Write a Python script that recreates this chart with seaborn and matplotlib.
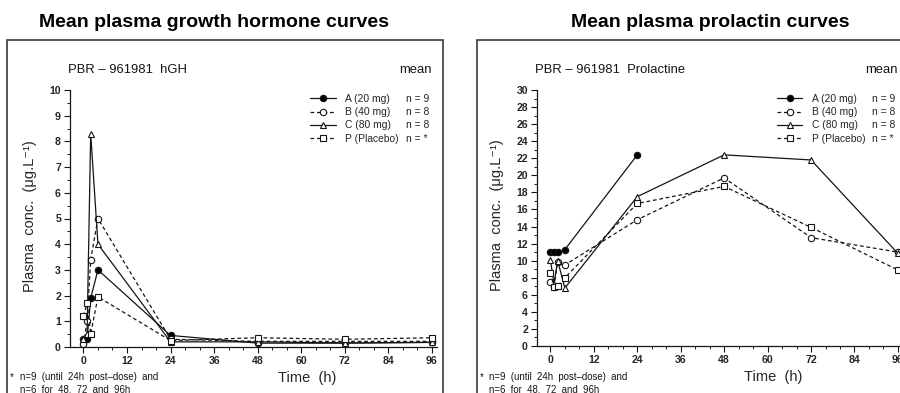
import numpy as np
import pandas as pd
import matplotlib
matplotlib.use("Agg")
import matplotlib.pyplot as plt
import seaborn as sns
from matplotlib.patches import Rectangle
from matplotlib.lines import Line2D
from matplotlib.ticker import MultipleLocator

sns.set_style("ticks")
plt.rcParams['font.family'] = ['Liberation Sans', 'DejaVu Sans']

# Sampling times (h)
times = [0, 1, 2, 4, 24, 48, 72, 96]

# Mean plasma growth hormone (ug/L)
gh_a = [0.33, 0.30, 1.90, 3.00, 0.45, 0.15, 0.15, 0.18]
gh_b = [0.10, 1.00, 3.40, 5.00, 0.30, 0.22, 0.22, 0.22]
gh_c = [0.30, 0.50, 8.30, 4.00, 0.20, 0.20, 0.16, 0.18]
gh_p = [1.20, 1.70, 0.50, 1.95, 0.25, 0.36, 0.30, 0.36]

# Mean plasma prolactin (ug/L)
prl_a = [11.0, 11.0, 11.0, 11.3, 22.4, np.nan, np.nan, np.nan]
prl_b = [7.5, 6.9, 9.9, 9.5, 14.8, 19.7, 12.7, 11.0]
prl_c = [10.1, 7.3, 10.0, 6.8, 17.5, 22.4, 21.8, 10.85]
prl_p = [8.6, 6.9, 7.0, 8.0, 16.7, 18.7, 13.9, 8.9]

groups = ["A (20 mg)", "B (40 mg)", "C (80 mg)", "P (Placebo)"]
n_labels = ["n = 9", "n = 8", "n = 8", "n = *"]

dash = (0, (3.0, 2.2))
styles = {
    "A (20 mg)": dict(linestyle="-", marker="o", markerfacecolor="black"),
    "B (40 mg)": dict(linestyle=dash, marker="o", markerfacecolor="white"),
    "C (80 mg)": dict(linestyle="-", marker="^", markerfacecolor="white"),
    "P (Placebo)": dict(linestyle=dash, marker="s", markerfacecolor="white"),
}

W, H = 900, 393
fig = plt.figure(figsize=(9, 3.93), dpi=100)

def fx(px):
    return px / W

def fy(py):
    return 1 - py / H

ink = "#151515"


def draw_panel(ax, series, ymax, ymajor, yminor, header):
    for grp, vals in zip(groups, series):
        df = pd.DataFrame({"t": times, "v": vals}).dropna()
        sns.lineplot(data=df, x="t", y="v", ax=ax, color=ink, lw=0.9,
                     markersize=4.6, markeredgecolor=ink, markeredgewidth=0.8,
                     estimator=None, sort=False, legend=False, label=grp,
                     clip_on=False, **styles[grp])
    ax.set_xlim(-3.7, 97.4)
    ax.set_ylim(0, ymax)
    sns.despine(ax=ax)
    ax.spines["left"].set_bounds(0, ymax)
    for s in ("left", "bottom"):
        ax.spines[s].set_linewidth(0.9)
        ax.spines[s].set_color(ink)
    ax.xaxis.set_major_locator(MultipleLocator(12))
    ax.xaxis.set_minor_locator(MultipleLocator(4))
    ax.yaxis.set_major_locator(MultipleLocator(ymajor))
    ax.yaxis.set_minor_locator(MultipleLocator(yminor))
    ax.tick_params(which="major", length=4, width=0.8, color=ink,
                   labelsize=7.6, pad=2.5)
    ax.tick_params(which="minor", length=2.2, width=0.7, color=ink)
    for lab in ax.get_xticklabels() + ax.get_yticklabels():
        lab.set_fontweight("bold")

    ax.set_xlabel("Time  (h)", fontsize=10.5)
    ax.xaxis.set_label_coords(0.646, -0.12)
    ax.xaxis.label.set_verticalalignment("center")
    ax.set_ylabel("Plasma  conc.  (\u03bcg.L\u207b\u00b9)", fontsize=10.5)
    ax.yaxis.set_label_coords(-0.109, 0.51)
    ax.yaxis.label.set_verticalalignment("center")

    ax.text(-0.005, 1.078, header, transform=ax.transAxes, ha="left",
            va="center", fontsize=9.4, color=ink)
    ax.text(0.986, 1.078, "mean", transform=ax.transAxes, ha="right",
            va="center", fontsize=9.4, color=ink)

    handles, labels = ax.get_legend_handles_labels()
    leg = ax.legend(handles, labels, loc="upper left",
                    bbox_to_anchor=(0.655, 0.985), frameon=False, fontsize=7.4,
                    handlelength=2.5, handletextpad=0.9, labelspacing=0.32,
                    borderpad=0, borderaxespad=0)
    ax.add_artist(leg)
    blank = [Line2D([], [], linestyle="none") for _ in n_labels]
    ax.legend(blank, n_labels, loc="upper left", bbox_to_anchor=(0.915, 0.985),
              frameon=False, fontsize=7.4, handlelength=0, handletextpad=0,
              labelspacing=0.32, borderpad=0, borderaxespad=0)


# Left panel: growth hormone
ax1 = fig.add_axes([fx(70), fy(347), fx(437) - fx(70), fy(90) - fy(347)])
draw_panel(ax1, [gh_a, gh_b, gh_c, gh_p], 10, 1, 0.5, "PBR \u2013 961981  hGH")

# Right panel: prolactin
ax2 = fig.add_axes([fx(537), fy(346), fx(903) - fx(537), fy(90) - fy(346)])
draw_panel(ax2, [prl_a, prl_b, prl_c, prl_p], 30, 2, 1,
           "PBR \u2013 961981  Prolactine")

# Panel frames
for x0, x1 in ((7, 443), (477, 960)):
    fig.add_artist(Rectangle((fx(x0), -0.2), fx(x1) - fx(x0), fy(40) + 0.2,
                             transform=fig.transFigure, fill=False, lw=1.2,
                             ec="#3a3a3a"))

# Panel titles
fig.text(fx(214), fy(27), "Mean plasma growth hormone curves", ha="center",
         va="baseline", fontsize=14, fontweight="bold", color="black")
fig.text(fx(710), fy(27), "Mean plasma prolactin curves", ha="center",
         va="baseline", fontsize=14, fontweight="bold", color="black")

# Footnotes
for xs, xt in ((10, 20), (480, 489)):
    fig.text(fx(xs), fy(377), "*", ha="left", va="center", fontsize=7,
             color=ink)
    fig.text(fx(xt), fy(377), "n=9  (until  24h  post\u2013dose)  and",
             ha="left", va="center", fontsize=6.9, color=ink)
    fig.text(fx(xt), fy(389), "n=6  for  48,  72  and  96h",
             ha="left", va="center", fontsize=6.9, color=ink)

fig.savefig("out.png", dpi=100)
